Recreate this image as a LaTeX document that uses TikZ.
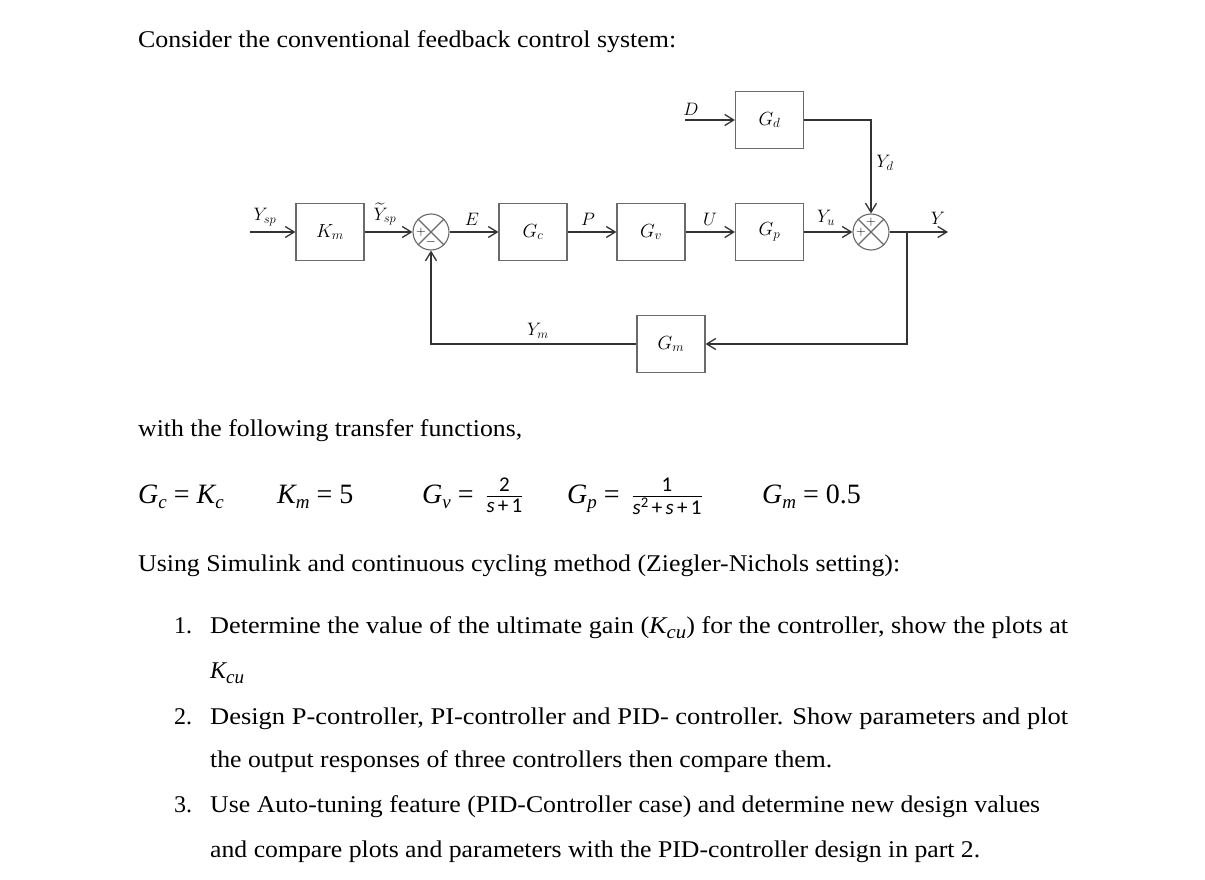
\RequirePackage{fix-cm}
\documentclass[tikz,border=0pt]{standalone}
\usepackage{amsmath}
\usepackage{fontspec}
\setmainfont{Liberation Serif}
\newfontfamily\carl{Carlito}
\usetikzlibrary{arrows.meta,calc}
\definecolor{linegray}{HTML}{333333}
\definecolor{boxgray}{HTML}{6A6A6A}
\newlength\fitw
\newcommand\fitline[2]{\settowidth\fitw{#2}\pgfmathsetmacro\fitx{#1/\fitw}\scalebox{\fitx}[1]{#2}}
\newcommand\Kcu{{\itshape K\raisebox{-5pt}{\fontsize{19}{19}\selectfont cu}}}
\newcommand\smallsans[1]{\text{\carl\itshape\fontsize{21}{21}\selectfont #1}}
\newcommand\smallnum[1]{\text{\carl\fontsize{21}{21}\selectfont #1}}
\newcommand\ev[2]{{\itshape #1}\raisebox{-5pt}{\fontsize{19}{19}\selectfont\itshape #2}}
\tikzset{
 blk/.style={draw=boxgray, line width=1.1pt, minimum width=68pt, minimum height=57pt, inner sep=0pt, font=\fontsize{19}{21}\selectfont},
 sumc/.style={circle, draw=boxgray, line width=1.1pt, minimum size=36pt, inner sep=0pt},
 sig/.style={draw=linegray, line width=1.9pt, -{Straight Barb[length=9pt,width=11pt,line width=1.3pt]}},
 lab/.style={font=\fontsize{18}{20}\selectfont, inner sep=0pt},
 sgn/.style={font=\fontsize{13}{13}\selectfont, inner sep=0pt},
 txt/.style={anchor=base west, inner sep=0pt, font=\fontsize{24}{28}\selectfont},
 eqn/.style={anchor=base west, inner sep=0pt, font=\fontsize{28}{30}\selectfont},
}
\begin{document}
\begin{tikzpicture}[x=1pt,y=-1pt]
\fill[white] (0,0) rectangle (1205,880);
\useasboundingbox (0,0) rectangle (1205,880);

% blocks
\node[blk] (Km) at (330,232) {$K_m$};
\node[blk] (Gc) at (533,232) {$G_c$};
\node[blk] (Gv) at (651,232) {$G_v$};
\node[blk] (Gp) at (769.5,232) {$G_p$};
\node[blk] (Gd) at (769.5,120) {$G_d$};
\node[blk] (Gm) at (671,344) {$G_m$};
\node[sumc] (s1) at (431,232) {};
\node[sumc] (s2) at (871,232) {};
\draw[boxgray, line width=1.1pt] (s1.north west) -- (s1.south east) (s1.north east) -- (s1.south west);
\draw[boxgray, line width=1.1pt] (s2.north west) -- (s2.south east) (s2.north east) -- (s2.south west);
\node[sgn] at ($(s1.center)+(-10,0)$) {$+$};
\node[sgn] at ($(s1.center)+(0,10)$) {$-$};
\node[sgn] at ($(s2.center)+(0,-10)$) {$+$};
\node[sgn] at ($(s2.center)+(-10,0)$) {$+$};

% free ends
\coordinate (in) at (250,232);
\coordinate (dist) at (685,120);
\coordinate (out) at (948,232);
\coordinate (tap) at (907,232);
\coordinate (ydc) at (871,120);

% connectors
\draw[sig] (in) -- (Km.west);
\draw[sig] (Km.east) -- (s1.west);
\draw[sig] (s1.east) -- (Gc.west);
\draw[sig] (Gc.east) -- (Gv.west);
\draw[sig] (Gv.east) -- (Gp.west);
\draw[sig] (Gp.east) -- (s2.west);
\draw[sig] (s2.east) -- (out);
\draw[sig] (dist) -- (Gd.west);
\draw[sig] (Gd.east) -- (ydc) -- (s2.north);
\draw[sig] (tap) |- (Gm.east);
\draw[sig] (Gm.west) -| (s1.south);

% signal labels
\node[lab] at (265,217) {$Y_{sp}$};
\node[lab] at (385,214) {$\widetilde{Y}_{sp}$};
\node[lab] at (472,219) {$E$};
\node[lab] at (588,219) {$P$};
\node[lab] at (710,219) {$U$};
\node[lab] at (826,218) {$Y_u$};
\node[lab] at (938,218) {$Y$};
\node[lab] at (691,109) {$D$};
\node[lab] at (885,163) {$Y_d$};
\node[lab] at (538,331) {$Y_m$};

% text
\node[txt] (t1) at (138,48) {\fitline{538}{Consider the conventional feedback control system:}};
\node[txt] (t2) at (138,436) {\fitline{384}{with the following transfer functions,}};
\node[eqn] (e1) at (138,503) {\ev{G}{c} = \ev{K}{c}};
\node[eqn] (e2) at (277,503) {\ev{K}{m} = 5};
\node[eqn] (e3) at (422,503) {\ev{G}{v} = $\,\frac{\smallnum{2}}{\smallsans{s}\,\smallnum{+}\,\smallnum{1}}$};
\node[eqn] (e4) at (567,503) {\ev{G}{p} = $\,\frac{\smallnum{1}}{\smallsans{s}\smallnum{\textsuperscript{2}}\,\smallnum{+}\,\smallsans{s}\,\smallnum{+}\,\smallnum{1}}$};
\node[eqn] (e5) at (762,503) {\ev{G}{m} = 0.5};
\node[txt] (t3) at (138,571) {\fitline{762}{Using Simulink and continuous cycling method (Ziegler-Nichols setting):}};
\node[txt] (n1) at (174,633) {1.};
\node[txt] (l1) at (210,633) {\fitline{858}{Determine the value of the ultimate gain (\Kcu) for the controller, show the plots at}};
\node[txt] (l1b) at (210,678) {\Kcu};
\node[txt] (n2) at (174,724) {2.};
\node[txt] (l2) at (210,724) {\fitline{858}{Design P-controller, PI-controller and PID- controller. Show parameters and plot}};
\node[txt] (l2b) at (210,767) {\fitline{622}{the output responses of three controllers then compare them.}};
\node[txt] (n3) at (174,812) {3.};
\node[txt] (l3) at (210,812) {\fitline{830}{Use Auto-tuning feature (PID-Controller case) and determine new design values}};
\node[txt] (l3b) at (210,857) {\fitline{770}{and compare plots and parameters with the PID-controller design in part 2.}};
\end{tikzpicture}
\end{document}
